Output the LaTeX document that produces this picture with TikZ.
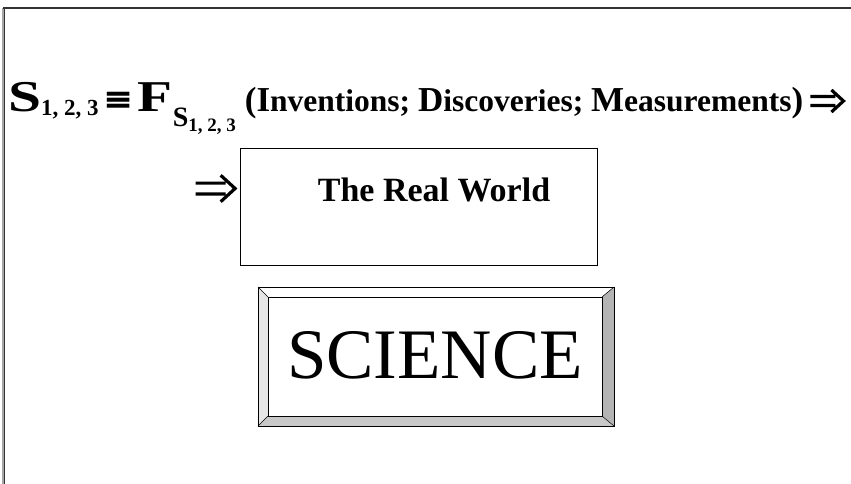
\documentclass[tikz,border=0pt]{standalone}
\usepackage{fontspec}
\setmainfont{Liberation Serif}
\newfontfamily\symb{DejaVu Serif}
\newcommand\szBig{\fontsize{44}{46}\selectfont}
\newcommand\szSub{\fontsize{23}{24}\selectfont}
\newcommand\szSubB{\fontsize{28}{30}\selectfont}
\newcommand\szSubSub{\fontsize{19}{20}\selectfont}
\newcommand\szCap{\fontsize{35}{38}\selectfont}
\newcommand\szLow{\fontsize{31.5}{34}\selectfont}
\definecolor{framegray}{HTML}{333333}
\definecolor{bevlight}{HTML}{E6E6E6}
\definecolor{bevmid}{HTML}{C8C8C8}
\definecolor{bevdark}{HTML}{B4B4B4}
\tikzset{
  frameline/.style={draw=framegray, line width=2pt},
  boxline/.style={draw=black, line width=1pt},
  formula/.style={anchor=base west, inner sep=0pt, font=\bfseries},
  dblstroke/.style={draw=black, line width=3.2pt, line join=miter},
}
\begin{document}
\begin{tikzpicture}[x=1pt,y=-1pt]
\useasboundingbox (0,0) rectangle (851,484);
\fill[white] (0,0) rectangle (851,484);
% outer frame (top and left only visible)
\coordinate (ftl) at (3,8);
\coordinate (ftr) at (851,8);
\coordinate (fbl) at (3,484);
\draw[draw=gray!70, line width=2.5pt] (fbl) -- (ftl);
\draw[frameline] (ftl) -- (ftr);
\draw[draw=framegray, line width=1pt] ([xshift=1pt]fbl) -- ([xshift=1pt]ftl);
% formula line
\node[formula] (formula) at (8,112) {%
  \szBig\scalebox{1.35}[1]{S}\raisebox{-4pt}{\szSub 1, 2, 3}\hspace{5pt}{\fontsize{36}{38}\selectfont\symb ≡}\hspace{4pt}\scalebox{1.3}[1]{F}\raisebox{-15pt}{\szSubB S\raisebox{-5pt}{\szSubSub 1, 2, 3}}\hspace{9pt}%
  {\szCap (I}{\szLow nventions;\ }{\szCap D}{\szLow iscoveries;\ }{\szCap M}{\szLow easurements}{\szCap )}};
% double arrow after the formula
\coordinate (a1) at ([xshift=7pt,yshift=11pt]formula.base east);
\draw[dblstroke, shift={(a1)}] (0,-4.5) -- (25,-4.5) (0,4.5) -- (25,4.5) (21,-11) -- (33,0) -- (21,11);
% The Real World box
\node[boxline, draw, minimum width=357pt, minimum height=117pt, inner sep=0pt] (world) at (418.5,206.5) {};
\node[font=\fontsize{34}{36}\selectfont\bfseries, inner sep=0pt, anchor=base] (worldtext) at (434,201) {The Real World};
% double arrow into the box
\coordinate (a2) at ([xshift=-44pt,yshift=18pt]world.west);
\draw[dblstroke, shift={(a2)}, scale=1.2] (0,-4.5) -- (25,-4.5) (0,4.5) -- (25,4.5) (21,-11) -- (33,0) -- (21,11);
% SCIENCE bevel box
\coordinate (o1) at (258,287);
\coordinate (o2) at (614,287);
\coordinate (o3) at (614,426);
\coordinate (o4) at (258,426);
\coordinate (i1) at (268,297);
\coordinate (i2) at (602,297);
\coordinate (i3) at (602,416);
\coordinate (i4) at (268,416);
\fill[white] (o1) -- (o2) -- (i2) -- (i1) -- cycle;
\fill[bevlight] (o1) -- (i1) -- (i4) -- (o4) -- cycle;
\fill[bevdark] (o2) -- (o3) -- (i3) -- (i2) -- cycle;
\fill[bevmid] (o4) -- (i4) -- (i3) -- (o3) -- cycle;
\draw[boxline] (o1) -- (o2) -- (o3) -- (o4) -- cycle;
\draw[boxline] (i1) -- (i2) -- (i3) -- (i4) -- cycle;
\draw[black, line width=0.5pt] (o1) -- (i1) (o2) -- (i2) (o3) -- (i3) (o4) -- (i4);
\node[inner sep=0pt, anchor=base, font=\fontsize{71}{72}\selectfont] (science) at (435,378) {SCIENCE};
\end{tikzpicture}
\end{document}
